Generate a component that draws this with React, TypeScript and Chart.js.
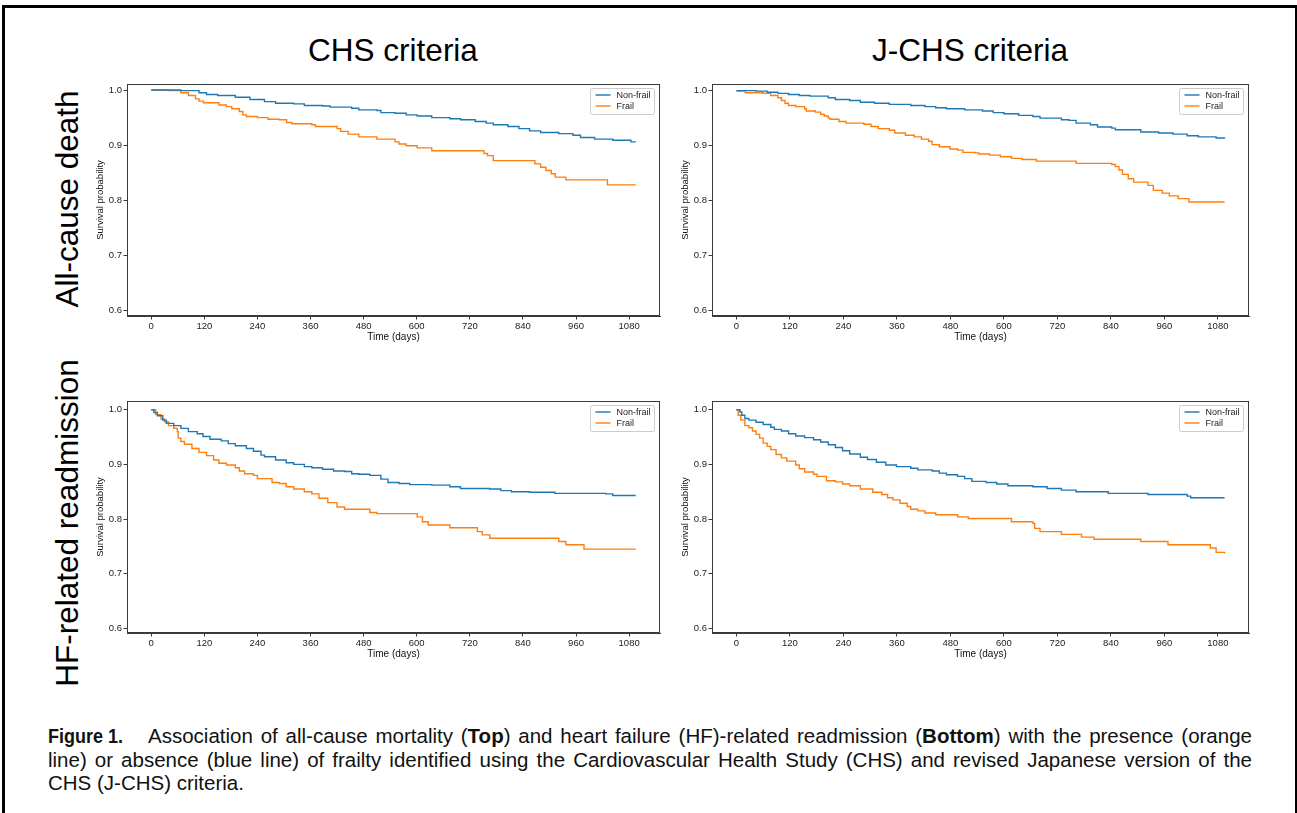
import React, { useEffect, useRef } from "react";
import { Chart, registerables } from "chart.js";

Chart.register(...registerables);

// ---------- data ----------
const X_TICKS = [0, 120, 240, 360, 480, 600, 720, 840, 960, 1080];
const Y_TICKS = [0.6, 0.7, 0.8, 0.9, 1.0];
const SERIES_LABELS = ["Non-frail", "Frail"];
const COLUMN_TITLES = ["CHS criteria", "J-CHS criteria"];
const ROW_TITLES = ["All-cause death", "HF-related readmission"];

// CHS criteria – all-cause death
const chsDeathNonfrailDays = [0, 67, 108, 125, 150, 190, 223, 256, 281, 322, 346, 387, 404, 453, 469, 510, 519, 551, 576, 601, 634, 675, 699, 732, 757, 773, 806, 831, 855, 880, 921, 953, 970, 1002, 1043, 1084, 1095];
const chsDeathNonfrailSurv = [1.0, 0.999, 0.995, 0.992, 0.990, 0.987, 0.983, 0.979, 0.976, 0.975, 0.972, 0.971, 0.969, 0.967, 0.964, 0.963, 0.959, 0.958, 0.955, 0.953, 0.950, 0.948, 0.946, 0.943, 0.940, 0.937, 0.934, 0.930, 0.926, 0.923, 0.921, 0.918, 0.914, 0.911, 0.909, 0.906, 0.906];
const chsDeathFrailDays = [0, 40, 67, 84, 100, 108, 118, 153, 170, 182, 199, 207, 215, 240, 264, 289, 306, 318, 363, 371, 420, 428, 445, 469, 510, 551, 560, 576, 601, 634, 752, 760, 773, 867, 880, 892, 904, 913, 937, 1031, 1095];
const chsDeathFrailSurv = [1.0, 0.999, 0.995, 0.990, 0.984, 0.980, 0.977, 0.973, 0.970, 0.966, 0.961, 0.955, 0.952, 0.950, 0.947, 0.946, 0.941, 0.939, 0.937, 0.934, 0.930, 0.925, 0.920, 0.915, 0.911, 0.906, 0.902, 0.899, 0.895, 0.890, 0.885, 0.881, 0.872, 0.866, 0.860, 0.854, 0.848, 0.842, 0.837, 0.828, 0.828];

// J-CHS criteria – all-cause death
const jchsDeathNonfrailDays = [0, 44, 69, 93, 117, 141, 165, 206, 222, 254, 278, 310, 343, 391, 423, 447, 471, 512, 552, 576, 600, 633, 665, 681, 729, 746, 762, 794, 810, 842, 850, 907, 947, 979, 1011, 1036, 1076, 1095];
const jchsDeathNonfrailSurv = [0.999, 0.998, 0.996, 0.994, 0.992, 0.990, 0.989, 0.986, 0.983, 0.981, 0.978, 0.976, 0.974, 0.972, 0.970, 0.968, 0.966, 0.964, 0.962, 0.959, 0.957, 0.954, 0.952, 0.949, 0.946, 0.945, 0.940, 0.937, 0.933, 0.931, 0.928, 0.924, 0.922, 0.920, 0.917, 0.915, 0.913, 0.912];
const jchsDeathFrailDays = [0, 20, 60, 77, 93, 101, 109, 117, 133, 153, 157, 177, 189, 197, 206, 210, 230, 246, 286, 302, 318, 343, 355, 379, 399, 415, 431, 439, 455, 479, 496, 508, 536, 544, 568, 592, 617, 641, 673, 762, 842, 850, 858, 866, 879, 891, 923, 935, 955, 971, 991, 1015, 1095];
const jchsDeathFrailSurv = [0.998, 0.995, 0.994, 0.990, 0.986, 0.981, 0.976, 0.972, 0.970, 0.966, 0.962, 0.960, 0.956, 0.953, 0.949, 0.947, 0.943, 0.940, 0.938, 0.934, 0.930, 0.927, 0.922, 0.918, 0.915, 0.911, 0.907, 0.901, 0.897, 0.893, 0.891, 0.887, 0.886, 0.884, 0.882, 0.879, 0.876, 0.874, 0.871, 0.867, 0.865, 0.861, 0.855, 0.847, 0.839, 0.833, 0.827, 0.818, 0.813, 0.808, 0.803, 0.797, 0.797];

// CHS criteria – HF-related readmission
const chsHfNonfrailDays = [0, 6, 14, 26, 34, 51, 67, 84, 104, 117, 133, 158, 174, 190, 215, 231, 248, 256, 281, 305, 322, 346, 363, 387, 412, 437, 453, 469, 494, 519, 535, 560, 584, 634, 675, 699, 765, 790, 814, 855, 912, 1027, 1043, 1095];
const chsHfNonfrailSurv = [1.0, 0.995, 0.989, 0.981, 0.975, 0.971, 0.966, 0.960, 0.956, 0.951, 0.946, 0.943, 0.938, 0.934, 0.929, 0.924, 0.917, 0.914, 0.908, 0.903, 0.900, 0.896, 0.894, 0.891, 0.888, 0.887, 0.883, 0.882, 0.880, 0.873, 0.867, 0.865, 0.863, 0.862, 0.859, 0.856, 0.855, 0.852, 0.850, 0.849, 0.847, 0.846, 0.843, 0.843];
const chsHfFrailDays = [0, 10, 22, 30, 39, 51, 59, 61, 67, 75, 92, 108, 125, 141, 153, 170, 190, 199, 211, 231, 240, 273, 289, 305, 322, 346, 363, 379, 399, 420, 437, 494, 510, 601, 613, 626, 675, 737, 748, 765, 921, 937, 978, 1095];
const chsHfFrailSurv = [1.0, 0.991, 0.983, 0.978, 0.971, 0.966, 0.960, 0.948, 0.942, 0.937, 0.929, 0.922, 0.916, 0.908, 0.902, 0.899, 0.894, 0.888, 0.883, 0.880, 0.874, 0.867, 0.865, 0.859, 0.855, 0.850, 0.846, 0.838, 0.830, 0.822, 0.818, 0.812, 0.810, 0.804, 0.795, 0.789, 0.784, 0.777, 0.771, 0.765, 0.759, 0.753, 0.745, 0.745];

// J-CHS criteria – HF-related readmission
const jchsHfNonfrailDays = [0, 8, 12, 19, 28, 44, 60, 77, 85, 101, 117, 133, 153, 173, 189, 206, 222, 238, 254, 278, 294, 314, 335, 359, 391, 407, 439, 455, 471, 496, 512, 528, 560, 584, 609, 665, 697, 729, 762, 834, 923, 1011, 1019, 1095];
const jchsHfNonfrailSurv = [1.0, 0.996, 0.990, 0.984, 0.981, 0.977, 0.973, 0.968, 0.964, 0.961, 0.956, 0.952, 0.949, 0.945, 0.941, 0.936, 0.931, 0.925, 0.919, 0.913, 0.909, 0.904, 0.899, 0.896, 0.893, 0.890, 0.888, 0.884, 0.881, 0.878, 0.874, 0.869, 0.867, 0.864, 0.861, 0.859, 0.856, 0.853, 0.850, 0.847, 0.845, 0.842, 0.839, 0.839];
const jchsHfFrailDays = [0, 4, 10, 19, 28, 36, 44, 52, 60, 69, 77, 89, 101, 113, 133, 141, 153, 173, 181, 202, 222, 238, 254, 278, 306, 326, 339, 351, 367, 383, 391, 407, 423, 447, 496, 520, 617, 665, 669, 681, 729, 774, 802, 907, 968, 1063, 1076, 1095];
const jchsHfFrailSurv = [1.0, 0.990, 0.981, 0.971, 0.967, 0.961, 0.955, 0.948, 0.939, 0.933, 0.927, 0.918, 0.912, 0.906, 0.899, 0.892, 0.886, 0.882, 0.878, 0.870, 0.868, 0.864, 0.861, 0.855, 0.849, 0.845, 0.839, 0.835, 0.829, 0.823, 0.818, 0.815, 0.811, 0.808, 0.804, 0.801, 0.795, 0.792, 0.783, 0.777, 0.772, 0.767, 0.763, 0.759, 0.753, 0.747, 0.739, 0.737];

// ---------- styling ----------
const COLORS = ["#1f77b4", "#ff7f0e"];
const SPINE = "#3a3a3a";
const FONT = '"Liberation Sans", Arial, Helvetica, sans-serif';
const Y_SCALE_W = 34;
const X_SCALE_H = 28;
const PAD = 12;

type PanelSpec = {
  left: number;
  top: number;
  width: number;
  height: number;
  yMin: number;
  yMax: number;
  nonDays: number[];
  nonSurv: number[];
  frailDays: number[];
  frailSurv: number[];
};

const PANELS: PanelSpec[] = [
  { left: 127, top: 84, width: 533, height: 232, yMin: 0.59, yMax: 1.011, nonDays: chsDeathNonfrailDays, nonSurv: chsDeathNonfrailSurv, frailDays: chsDeathFrailDays, frailSurv: chsDeathFrailSurv },
  { left: 712, top: 84, width: 537, height: 232, yMin: 0.59, yMax: 1.011, nonDays: jchsDeathNonfrailDays, nonSurv: jchsDeathNonfrailSurv, frailDays: jchsDeathFrailDays, frailSurv: jchsDeathFrailSurv },
  { left: 127, top: 401, width: 533, height: 232, yMin: 0.5915, yMax: 1.016, nonDays: chsHfNonfrailDays, nonSurv: chsHfNonfrailSurv, frailDays: chsHfFrailDays, frailSurv: chsHfFrailSurv },
  { left: 712, top: 401, width: 537, height: 232, yMin: 0.5915, yMax: 1.016, nonDays: jchsHfNonfrailDays, nonSurv: jchsHfNonfrailSurv, frailDays: jchsHfFrailDays, frailSurv: jchsHfFrailSurv },
];

function toPoints(days: number[], surv: number[]) {
  const n = Math.min(days.length, surv.length);
  const out: { x: number; y: number }[] = [];
  for (let i = 0; i < n; i++) out.push({ x: days[i], y: surv[i] });
  return out;
}

const framePlugin = {
  id: "axesFrame",
  afterDatasetsDraw(chart: any) {
    const { ctx, chartArea: a } = chart;
    ctx.save();
    ctx.strokeStyle = SPINE;
    ctx.lineWidth = 1;
    ctx.strokeRect(Math.round(a.left) + 0.5, Math.round(a.top) + 0.5, Math.round(a.right - a.left) - 1, Math.round(a.bottom - a.top) - 1);
    ctx.restore();
  },
};

const boxLegendPlugin = {
  id: "boxLegend",
  afterDraw(chart: any) {
    const { ctx, chartArea: a } = chart;
    const ds = chart.data.datasets;
    ctx.save();
    ctx.font = `9px ${FONT}`;
    let tw = 0;
    ds.forEach((d: any) => (tw = Math.max(tw, ctx.measureText(d.label).width)));
    const w = 5 + 15 + 6 + tw + 4;
    const h = 26;
    const x = Math.round(a.right - 6 - w) + 0.5;
    const y = Math.round(a.top + 4) + 0.5;
    ctx.beginPath();
    (ctx as any).roundRect(x, y, w, h, 2);
    ctx.fillStyle = "rgba(255,255,255,0.85)";
    ctx.fill();
    ctx.strokeStyle = "#cccccc";
    ctx.lineWidth = 1;
    ctx.stroke();
    ds.forEach((d: any, i: number) => {
      const cy = y + 6.5 + i * 11;
      ctx.beginPath();
      ctx.moveTo(x + 5, cy);
      ctx.lineTo(x + 20, cy);
      ctx.strokeStyle = d.borderColor;
      ctx.lineWidth = 1.4;
      ctx.stroke();
      ctx.fillStyle = "#222";
      ctx.textBaseline = "middle";
      ctx.textAlign = "left";
      ctx.fillText(d.label, x + 26, cy + 0.5);
    });
    ctx.restore();
  },
};

function Panel({ spec }: { spec: PanelSpec }) {
  const ref = useRef<HTMLCanvasElement | null>(null);
  const cw = Y_SCALE_W + spec.width + PAD;
  const ch = PAD + spec.height + X_SCALE_H;

  useEffect(() => {
    if (!ref.current) return;
    const tickFont = { family: FONT, size: 9.5 };
    const chart = new Chart(ref.current, {
      type: "line",
      data: {
        datasets: [
          { label: SERIES_LABELS[0], data: toPoints(spec.nonDays, spec.nonSurv), borderColor: COLORS[0], backgroundColor: COLORS[0], borderWidth: 1.4, stepped: true, pointRadius: 0, fill: false },
          { label: SERIES_LABELS[1], data: toPoints(spec.frailDays, spec.frailSurv), borderColor: COLORS[1], backgroundColor: COLORS[1], borderWidth: 1.4, stepped: true, pointRadius: 0, fill: false },
        ],
      },
      options: {
        responsive: false,
        maintainAspectRatio: false,
        animation: false,
        events: [],
        layout: { padding: { top: PAD, right: PAD, left: 0, bottom: 0 } },
        plugins: { legend: { display: false }, tooltip: { enabled: false }, title: { display: false } },
        scales: {
          x: {
            type: "linear",
            min: -54.75,
            max: 1149.75,
            afterBuildTicks: (s: any) => {
              s.ticks = X_TICKS.map((v) => ({ value: v }));
            },
            afterFit: (s: any) => {
              s.height = X_SCALE_H;
              s.paddingLeft = 0;
              s.paddingRight = 0;
            },
            grid: { display: true, drawOnChartArea: false, drawTicks: true, tickLength: 3.5, color: SPINE, lineWidth: 1 },
            border: { display: true, color: SPINE, width: 1 },
            ticks: { font: tickFont, color: "#222", padding: 1.5, maxRotation: 0, autoSkip: false, callback: (v: any) => String(v) },
            title: { display: true, text: "Time (days)", color: "#111", font: { family: FONT, size: 10 }, padding: { top: 0, bottom: 1 } },
          },
          y: {
            type: "linear",
            min: spec.yMin,
            max: spec.yMax,
            afterBuildTicks: (s: any) => {
              s.ticks = Y_TICKS.map((v) => ({ value: v }));
            },
            afterFit: (s: any) => {
              s.width = Y_SCALE_W;
              s.paddingTop = 0;
              s.paddingBottom = 0;
            },
            grid: { display: true, drawOnChartArea: false, drawTicks: true, tickLength: 3.5, color: SPINE, lineWidth: 1 },
            border: { display: true, color: SPINE, width: 1 },
            ticks: { font: tickFont, color: "#222", padding: 1.5, autoSkip: false, callback: (v: any) => Number(v).toFixed(1) },
            title: { display: true, text: "Survival probability", color: "#111", font: { family: FONT, size: 9.5 }, padding: { top: 2, bottom: 0 } },
          },
        },
      } as any,
      plugins: [framePlugin, boxLegendPlugin],
    });
    return () => chart.destroy();
  }, [spec]);

  return (
    <canvas
      ref={ref}
      width={cw}
      height={ch}
      style={{ position: "absolute", left: spec.left - Y_SCALE_W, top: spec.top - PAD, width: cw, height: ch }}
    />
  );
}

const CAPTION_LABEL = "Figure 1.";
const CAPTION_LINE_2 = "line) or absence (blue line) of frailty identified using the Cardiovascular Health Study (CHS) and revised Japanese version of the";
const CAPTION_LINE_3 = "CHS (J-CHS) criteria.";

export default function App() {
  useEffect(() => {
    document.body.style.margin = "0";
  }, []);

  const colTitle = (text: string, cx: number): React.ReactNode => (
    <div
      key={text}
      style={{ position: "absolute", left: cx - 200, top: 32, width: 400, textAlign: "center", fontFamily: FONT, fontSize: 31.5, lineHeight: "36px", color: "#000", whiteSpace: "nowrap" }}
    >
      {text}
    </div>
  );

  const rowTitle = (text: string, cy: number): React.ReactNode => (
    <div
      key={text}
      style={{ position: "absolute", left: 67 - 200, top: cy - 18, width: 400, height: 36, textAlign: "center", fontFamily: FONT, fontSize: 31.5, lineHeight: "36px", color: "#000", whiteSpace: "nowrap", transform: "rotate(-90deg)", transformOrigin: "50% 50%" }}
    >
      {text}
    </div>
  );

  const lineStyle: React.CSSProperties = { height: 23.5, whiteSpace: "nowrap" };
  const justified: React.CSSProperties = { height: 23.5, textAlign: "justify", textAlignLast: "justify" as any, whiteSpace: "normal" };

  return (
    <div style={{ position: "absolute", left: 0, top: 0, width: 1297, height: 813, overflow: "hidden", background: "#fff" }}>
      <div style={{ position: "absolute", left: 2, top: 5, width: 1290, height: 900, border: "3px solid #000" }} />
      {colTitle(COLUMN_TITLES[0], 393)}
      {colTitle(COLUMN_TITLES[1], 970)}
      {rowTitle(ROW_TITLES[0], 199)}
      {rowTitle(ROW_TITLES[1], 523)}
      {PANELS.map((p, i) => (
        <Panel key={i} spec={p} />
      ))}
      <div style={{ position: "absolute", left: 48, top: 724, width: 1204, fontFamily: FONT, fontSize: 20.5, lineHeight: "23.5px", color: "#111" }}>
        <div style={{ ...justified, display: "flex", alignItems: "baseline" }}>
          <span style={{ flex: "0 0 100px", display: "inline-block", fontFamily: FONT, fontWeight: "bold", fontSize: 20, transform: "scaleX(0.9)", transformOrigin: "0 50%", whiteSpace: "nowrap", textAlign: "left", textAlignLast: "left" as any }}>
            {CAPTION_LABEL}
          </span>
          <span style={{ flex: "1 1 auto", textAlign: "justify", textAlignLast: "justify" as any }}>
            Association of all-cause mortality (<b>Top</b>) and heart failure (HF)-related readmission (<b>Bottom</b>) with the presence (orange
          </span>
        </div>
        <div style={justified}>{CAPTION_LINE_2}</div>
        <div style={lineStyle}>{CAPTION_LINE_3}</div>
      </div>
    </div>
  );
}
